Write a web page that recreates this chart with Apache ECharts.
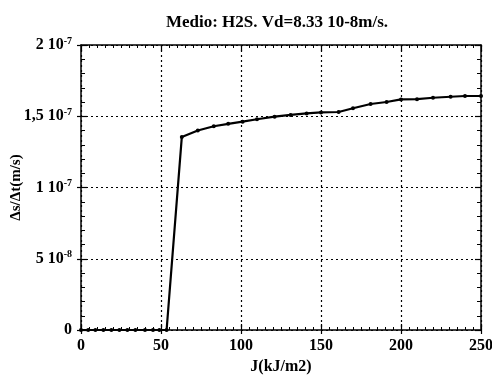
<!DOCTYPE html>
<html><head><meta charset="utf-8">
<script src="https://cdn.jsdelivr.net/npm/echarts@6/dist/echarts.min.js"></script>
<style>html,body{margin:0;padding:0;background:#fff}#c{width:492px;height:381px}</style>
</head><body><div id="c"></div>
<script>
const xValues = [0, 4.5, 9, 14, 19, 24, 29, 34, 40, 45, 49, 53.5, 63, 73, 83, 92, 101, 110, 121, 131, 141, 150, 161, 170, 181, 191, 200, 210, 220, 231, 240, 250];
const yValues = [0, 0, 0, 0, 0, 0, 0, 0, 0, 0, 0, 0, 1.354e-7, 1.40e-7, 1.43e-7, 1.447e-7, 1.462e-7, 1.479e-7, 1.497e-7, 1.509e-7, 1.52e-7, 1.527e-7, 1.53e-7, 1.556e-7, 1.586e-7, 1.60e-7, 1.618e-7, 1.62e-7, 1.63e-7, 1.637e-7, 1.642e-7, 1.642e-7];
const yTickValues = [0, 5e-8, 1e-7, 1.5e-7, 2e-7];
const yTickMantissa = ['0', '5 10', '1 10', '1,5 10', '2 10'];
const yTickExponent = ['', '-8', '-7', '-7', '-7'];
const xTickLabels = ['0', '50', '100', '150', '200', '250'];
const titleText = 'Medio: H2S. Vd=8.33 10-8m/s.';
const xName = 'J(kJ/m2)';
const yName = 'Δs/Δt(m/s)';

const font = 'Liberation Serif';
const chart = echarts.init(document.getElementById('c'));
const data = xValues.map((x, i) => [x, yValues[i]]);
function yLabel(v) {
  let idx = yTickValues.findIndex(t => Math.abs(t - v) < 1e-12);
  if (idx < 0) return '';
  if (!yTickExponent[idx]) return '{m|' + yTickMantissa[idx] + '}';
  return '{m|' + yTickMantissa[idx] + '}{e|' + yTickExponent[idx] + '}';
}
const axLine = {show: true, onZero: false, lineStyle: {color: '#000', width: 1.5}};
const noLine = {show: false, onZero: false};
const tk = {color: '#000', width: 1.2};
const xBase = {type: 'value', min: 0, max: 250, interval: 50};
const yBase = {type: 'value', min: 0, max: 2e-7, interval: 5e-8};
chart.setOption({
  animation: false,
  title: {text: titleText, left: 272, top: 9, textAlign: 'center',
    textStyle: {fontFamily: font, fontSize: 17, fontWeight: 'bold', color: '#000'}},
  grid: {left: 81, right: 11, top: 45, bottom: 51, containLabel: false, outerBoundsMode: 'none'},
  xAxis: [Object.assign({}, xBase, {
    position: 'bottom',
    name: xName, nameLocation: 'middle', nameGap: 29, nameMoveOverlap: false,
    nameTextStyle: {fontFamily: font, fontSize: 16, fontWeight: 'bold', color: '#000'},
    axisLine: axLine,
    axisTick: {show: true, inside: false, length: 4, lineStyle: tk},
    axisLabel: {fontFamily: font, fontSize: 16, fontWeight: 'bold', color: '#000', margin: 8,
      formatter: v => xTickLabels[Math.round(v / 50)] || ''},
    splitLine: {show: true, lineStyle: {color: '#000', type: [2, 3], width: 1.2}}
  }), Object.assign({}, xBase, {
    position: 'bottom', axisLine: noLine,
    axisTick: {show: true, inside: true, length: 6, lineStyle: tk},
    minorTick: {show: true, splitNumber: 10, length: 3, lineStyle: {color: '#000'}},
    axisLabel: {show: false}, splitLine: {show: false}
  }), Object.assign({}, xBase, {
    position: 'top', axisLine: axLine,
    axisTick: {show: true, inside: true, length: 6, lineStyle: tk},
    minorTick: {show: true, splitNumber: 10, length: 3, lineStyle: {color: '#000'}},
    axisLabel: {show: false}, splitLine: {show: false}
  })],
  yAxis: [Object.assign({}, yBase, {
    position: 'left',
    name: yName, nameLocation: 'middle', nameGap: 57, nameRotate: 90, nameMoveOverlap: false,
    nameTextStyle: {fontFamily: font, fontSize: 15, fontWeight: 'bold', color: '#000'},
    axisLine: axLine,
    axisTick: {show: true, length: 4, lineStyle: tk},
    axisLabel: {margin: 9, formatter: yLabel,
      rich: {m: {fontFamily: font, fontSize: 16, fontWeight: 'bold', color: '#000'},
             e: {fontFamily: font, fontSize: 10, fontWeight: 'bold', color: '#000', verticalAlign: 'top', padding: [0, 0, 8, 0]}}},
    splitLine: {show: true, lineStyle: {color: '#000', type: [2, 3], width: 1.2}}
  }), Object.assign({}, yBase, {
    position: 'left', axisLine: noLine,
    axisTick: {show: true, inside: true, length: 6, lineStyle: tk},
    minorTick: {show: true, splitNumber: 5, length: 4, lineStyle: {color: '#000'}},
    axisLabel: {show: false}, splitLine: {show: false}
  }), Object.assign({}, yBase, {
    position: 'right', axisLine: axLine,
    axisTick: {show: true, inside: true, length: 6, lineStyle: tk},
    minorTick: {show: true, splitNumber: 5, length: 4, lineStyle: {color: '#000'}},
    axisLabel: {show: false}, splitLine: {show: false}
  })],
  series: [{
    type: 'line', data: data, xAxisIndex: 0, yAxisIndex: 0,
    symbol: 'circle', symbolSize: 4, showSymbol: true,
    lineStyle: {color: '#000', width: 2.2}, itemStyle: {color: '#000'}
  }]
});
</script></body></html>
